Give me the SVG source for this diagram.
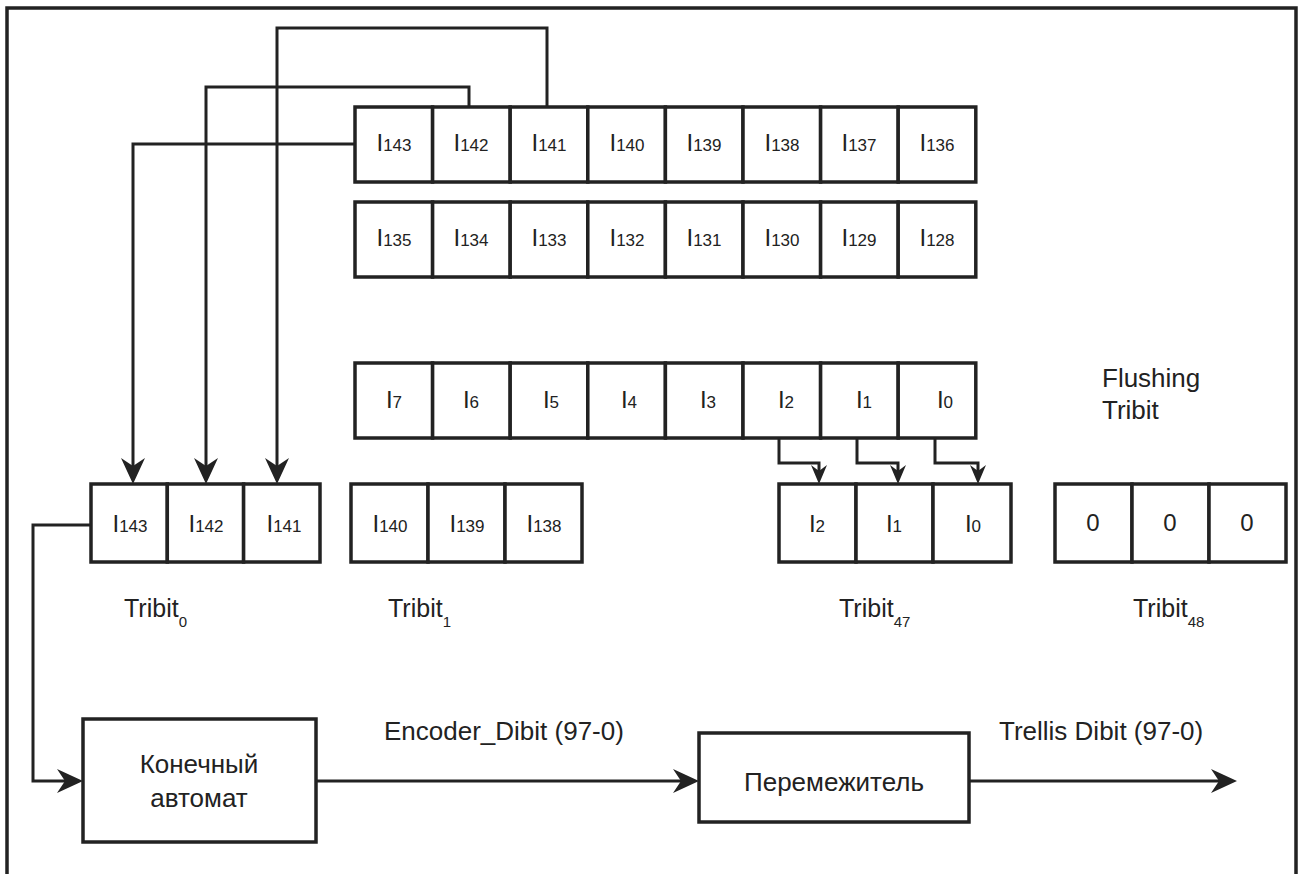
<svg xmlns="http://www.w3.org/2000/svg" width="1301" height="874" viewBox="0 0 1301 874">
<style>
.frame{fill:none;stroke:#222;stroke-width:3.5}
.cell{fill:#fff;stroke:#222;stroke-width:3.5}
.box{fill:#fff;stroke:#222;stroke-width:3.5}
.conn{fill:none;stroke:#222;stroke-width:3}
text{font-family:"Liberation Sans",Arial,sans-serif;fill:#222}
.ci{font-size:24px;text-anchor:middle}
.d{font-size:17px}
.lbl{font-size:26px}
.trb{font-size:25px}
.sub{font-size:15px}
.zero{font-size:24px;text-anchor:middle}
.mid{text-anchor:middle}
</style>
<defs>
<marker id="big" markerUnits="userSpaceOnUse" viewBox="-1 -13 28 26" markerWidth="28" markerHeight="26" refX="8" refY="0" orient="auto">
<path d="M0,-12 L26,0 L0,12 L8,0 Z" fill="#222"/>
</marker>
<marker id="small" markerUnits="userSpaceOnUse" viewBox="-1 -9 21 18" markerWidth="21" markerHeight="18" refX="6" refY="0" orient="auto">
<path d="M0,-8 L19,0 L0,8 L6,0 Z" fill="#222"/>
</marker>
</defs>
<rect width="1301" height="874" fill="#fff"/>
<path class="frame" d="M7,880 V8 H1296 V880"/>

<g id="connectors">
<path class="conn" d="M355,144 H133 V466" marker-end="url(#big)"/>
<path class="conn" d="M469,107 V87 H206 V466" marker-end="url(#big)"/>
<path class="conn" d="M547,107 V28 H277 V466" marker-end="url(#big)"/>
<path class="conn" d="M779,438 V463 H819 V471" marker-end="url(#small)"/>
<path class="conn" d="M857,438 V463 H898 V471" marker-end="url(#small)"/>
<path class="conn" d="M935,438 V463 H978 V471" marker-end="url(#small)"/>
<path class="conn" d="M91,525 H33 V781 H65" marker-end="url(#big)"/>
<path class="conn" d="M316,781 H681" marker-end="url(#big)"/>
<path class="conn" d="M969,781 H1219" marker-end="url(#big)"/>
</g>

<g id="row1">
<rect class="cell" x="355" y="107" width="77.6" height="75"/>
<rect class="cell" x="432.6" y="107" width="77.6" height="75"/>
<rect class="cell" x="510.2" y="107" width="77.6" height="75"/>
<rect class="cell" x="587.8" y="107" width="77.6" height="75"/>
<rect class="cell" x="665.4" y="107" width="77.6" height="75"/>
<rect class="cell" x="743" y="107" width="77.6" height="75"/>
<rect class="cell" x="820.6" y="107" width="77.6" height="75"/>
<rect class="cell" x="898.2" y="107" width="77.6" height="75"/>
<text class="ci" x="394" y="151">I<tspan class="d">143</tspan></text>
<text class="ci" x="471" y="151">I<tspan class="d">142</tspan></text>
<text class="ci" x="549" y="151">I<tspan class="d">141</tspan></text>
<text class="ci" x="627" y="151">I<tspan class="d">140</tspan></text>
<text class="ci" x="704" y="151">I<tspan class="d">139</tspan></text>
<text class="ci" x="782" y="151">I<tspan class="d">138</tspan></text>
<text class="ci" x="859" y="151">I<tspan class="d">137</tspan></text>
<text class="ci" x="937" y="151">I<tspan class="d">136</tspan></text>
</g>

<g id="row2">
<rect class="cell" x="355" y="202" width="77.6" height="75"/>
<rect class="cell" x="432.6" y="202" width="77.6" height="75"/>
<rect class="cell" x="510.2" y="202" width="77.6" height="75"/>
<rect class="cell" x="587.8" y="202" width="77.6" height="75"/>
<rect class="cell" x="665.4" y="202" width="77.6" height="75"/>
<rect class="cell" x="743" y="202" width="77.6" height="75"/>
<rect class="cell" x="820.6" y="202" width="77.6" height="75"/>
<rect class="cell" x="898.2" y="202" width="77.6" height="75"/>
<text class="ci" x="394" y="246">I<tspan class="d">135</tspan></text>
<text class="ci" x="471" y="246">I<tspan class="d">134</tspan></text>
<text class="ci" x="549" y="246">I<tspan class="d">133</tspan></text>
<text class="ci" x="627" y="246">I<tspan class="d">132</tspan></text>
<text class="ci" x="704" y="246">I<tspan class="d">131</tspan></text>
<text class="ci" x="782" y="246">I<tspan class="d">130</tspan></text>
<text class="ci" x="859" y="246">I<tspan class="d">129</tspan></text>
<text class="ci" x="937" y="246">I<tspan class="d">128</tspan></text>
</g>

<g id="row3">
<rect class="cell" x="355" y="363" width="77.6" height="75"/>
<rect class="cell" x="432.6" y="363" width="77.6" height="75"/>
<rect class="cell" x="510.2" y="363" width="77.6" height="75"/>
<rect class="cell" x="587.8" y="363" width="77.6" height="75"/>
<rect class="cell" x="665.4" y="363" width="77.6" height="75"/>
<rect class="cell" x="743" y="363" width="77.6" height="75"/>
<rect class="cell" x="820.6" y="363" width="77.6" height="75"/>
<rect class="cell" x="898.2" y="363" width="77.6" height="75"/>
<text class="ci" x="394" y="408">I<tspan class="d">7</tspan></text>
<text class="ci" x="471" y="408">I<tspan class="d">6</tspan></text>
<text class="ci" x="551" y="408">I<tspan class="d">5</tspan></text>
<text class="ci" x="629" y="408">I<tspan class="d">4</tspan></text>
<text class="ci" x="708" y="408">I<tspan class="d">3</tspan></text>
<text class="ci" x="786" y="408">I<tspan class="d">2</tspan></text>
<text class="ci" x="864" y="408">I<tspan class="d">1</tspan></text>
<text class="ci" x="945" y="408">I<tspan class="d">0</tspan></text>
</g>

<g id="tribit0">
<rect class="cell" x="91" y="484" width="76.3" height="78"/>
<rect class="cell" x="167.3" y="484" width="76.3" height="78"/>
<rect class="cell" x="243.6" y="484" width="76.4" height="78"/>
<text class="ci" x="130" y="532">I<tspan class="d">143</tspan></text>
<text class="ci" x="206" y="532">I<tspan class="d">142</tspan></text>
<text class="ci" x="284" y="532">I<tspan class="d">141</tspan></text>
<text class="trb" x="124" y="617">Tribit<tspan class="sub" dy="10">0</tspan></text>
</g>

<g id="tribit1">
<rect class="cell" x="351" y="484" width="77" height="78"/>
<rect class="cell" x="428" y="484" width="77" height="78"/>
<rect class="cell" x="505" y="484" width="77" height="78"/>
<text class="ci" x="390" y="532">I<tspan class="d">140</tspan></text>
<text class="ci" x="467" y="532">I<tspan class="d">139</tspan></text>
<text class="ci" x="544" y="532">I<tspan class="d">138</tspan></text>
<text class="trb" x="388" y="617">Tribit<tspan class="sub" dy="10">1</tspan></text>
</g>

<g id="tribit47">
<rect class="cell" x="779" y="484" width="77" height="78"/>
<rect class="cell" x="856" y="484" width="77" height="78"/>
<rect class="cell" x="933" y="484" width="78" height="78"/>
<text class="ci" x="817" y="532">I<tspan class="d">2</tspan></text>
<text class="ci" x="894" y="532">I<tspan class="d">1</tspan></text>
<text class="ci" x="973" y="532">I<tspan class="d">0</tspan></text>
<text class="trb" x="839" y="617">Tribit<tspan class="sub" dy="10">47</tspan></text>
</g>

<g id="tribit48">
<rect class="cell" x="1055" y="484" width="77" height="78"/>
<rect class="cell" x="1132" y="484" width="77" height="78"/>
<rect class="cell" x="1209" y="484" width="77" height="78"/>
<text class="zero" x="1093" y="531">0</text>
<text class="zero" x="1170" y="531">0</text>
<text class="zero" x="1247" y="531">0</text>
<text class="trb" x="1133" y="617">Tribit<tspan class="sub" dy="10">48</tspan></text>
</g>

<g id="flushing">
<text class="lbl" x="1102" y="387">Flushing</text>
<text class="lbl" x="1102" y="419">Tribit</text>
</g>

<g id="fsm">
<rect class="box" x="83" y="719" width="233" height="123"/>
<text class="lbl mid" x="199" y="773">Конечный</text>
<text class="lbl mid" x="199" y="807">автомат</text>
</g>

<g id="interleaver">
<rect class="box" x="699" y="733" width="270" height="89"/>
<text class="lbl mid" x="834" y="791">Перемежитель</text>
</g>

<g id="labels">
<text class="lbl" x="384" y="740">Encoder_Dibit (97-0)</text>
<text class="lbl" x="999" y="740">Trellis Dibit (97-0)</text>
</g>
</svg>
